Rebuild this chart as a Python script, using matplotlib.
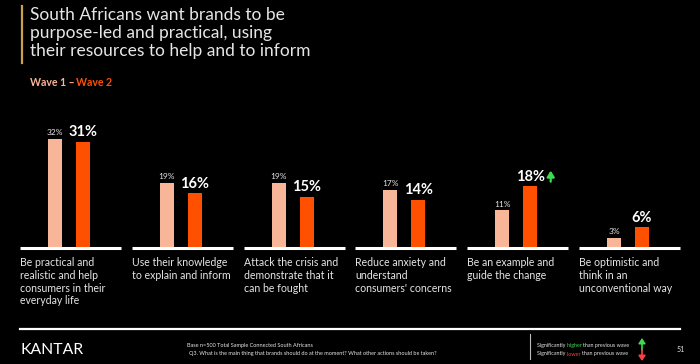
import matplotlib
matplotlib.use("Agg")
import matplotlib.pyplot as plt
from matplotlib.lines import Line2D
from matplotlib.patches import FancyArrowPatch

categories = [
    "Be practical and\nrealistic and help\nconsumers in their\neveryday life",
    "Use their knowledge\nto explain and inform",
    "Attack the crisis and\ndemonstrate that it\ncan be fought",
    "Reduce anxiety and\nunderstand\nconsumers' concerns",
    "Be an example and\nguide the change",
    "Be optimistic and\nthink in an\nunconventional way",
]
wave1 = [32, 19, 19, 17, 11, 3]
wave2 = [31, 16, 15, 14, 18, 6]
significance = [None, None, None, None, "up", None]

W, H = 700, 364
BG = "#000000"
C1 = "#F9B597"
C2 = "#FF5000"
TXT = "#E6E6E6"
GREEN = "#3DDC4E"
RED = "#FF4040"
FONT = ["Lato", "DejaVu Sans"]

fig = plt.figure(figsize=(W / 100, H / 100), dpi=100, facecolor=BG)

def fx(px):
    return px / W

def fy(py):
    return 1 - py / H

# title block
fig.add_artist(Line2D([fx(22), fx(22)], [fy(6), fy(63)], color="#C9A24A", lw=1.6))
fig.text(fx(30), fy(7), "South Africans want brands to be\npurpose-led and practical, using\ntheir resources to help and to inform",
         color=TXT, fontsize=12.5, family=FONT, va="top", ha="left", linespacing=1.14)
t1 = fig.text(fx(30), fy(83), "Wave 1 \u2013", color=C1, fontsize=7.6, family=FONT,
              va="center", ha="left", fontweight="bold")
fig.canvas.draw()
bb = t1.get_window_extent()
fig.text(bb.x1 / W + 1 / W, fy(83), "Wave 2", color=C2, fontsize=7.6, family=FONT,
         va="center", ha="left", fontweight="bold")

# bar axes: baseline at y=248px, 3.42 px per %
period = 111.8
base_py = 248
top_py = 110
ax = fig.add_axes([fx(20), fy(base_py), 6 * period / W, (base_py - top_py) / H])
ax.set_facecolor(BG)
ax.set_xlim(0, 6)
ax.set_ylim(0, (base_py - top_py) / 3.42)
ax.axis("off")

panel_w = 101 / period
bw = 14 / period
off1 = 35 / period
off2 = 63 / period

for i in range(len(categories)):
    ax.bar(i + off1, wave1[i], width=bw, color=C1, zorder=2)
    ax.bar(i + off2, wave2[i], width=bw, color=C2, zorder=2)
    ax.plot([i, i + panel_w], [0, 0], color="white", lw=2.2, solid_capstyle="butt",
            zorder=3, clip_on=False)
    ax.annotate(f"{wave1[i]}%", (i + off1, wave1[i]), xytext=(0, 2), textcoords="offset points",
                ha="center", va="bottom", color=TXT, fontsize=6, family=FONT)
    lab = ax.annotate(f"{wave2[i]}%", (i + off2, wave2[i]), xytext=(0, 2), textcoords="offset points",
                      ha="center", va="bottom", color="white", fontsize=10.5, family=FONT,
                      fontweight="bold")
    if significance[i] == "up":
        fig.canvas.draw()
        lb = lab.get_window_extent()
        xa = lb.x1 + 6
        fig.add_artist(FancyArrowPatch((xa / W, (lb.y0 + 2) / H), (xa / W, (lb.y1 - 1) / H),
                                       transform=fig.transFigure,
                                       arrowstyle="-|>,head_width=2.2,head_length=3.5",
                                       color=GREEN, lw=1.6, shrinkA=0, shrinkB=0))
    fig.text(fx(20 + i * period), fy(257), categories[i], color=TXT, fontsize=7.6,
             family=FONT, va="top", ha="left", linespacing=1.2)

# footer
fig.add_artist(Line2D([fx(20), fx(680)], [fy(329), fy(329)], color="white", lw=1.6))
fig.text(fx(20), fy(350), "KANTAR", color="white", fontsize=11.3, family=FONT,
         va="center", ha="left")
fig.text(fx(187), fy(345.5), "Base n=500 Total Sample Connected South Africans",
         color=TXT, fontsize=4.0, family=FONT, va="center", ha="left")
fig.text(fx(189), fy(353.5),
         "Q3. What is the main thing that brands should do at the moment? What other actions should be taken?",
         color=TXT, fontsize=4.0, family=FONT, va="center", ha="left")
fig.add_artist(Line2D([fx(530), fx(530)], [fy(334), fy(359)], color="#BBBBBB", lw=0.8))
y1, y2 = 345, 354
for yy, word, col in [(y1, "higher ", GREEN), (y2, "lower ", RED)]:
    a = fig.text(fx(537), fy(yy), "Significantly ", color=TXT, fontsize=3.9, family=FONT, va="center")
    fig.canvas.draw()
    x = a.get_window_extent().x1
    b = fig.text(x / W, fy(yy), word, color=col, fontsize=3.9, family=FONT, va="center")
    fig.canvas.draw()
    x = b.get_window_extent().x1
    fig.text(x / W, fy(yy), "than previous wave", color=TXT, fontsize=3.9, family=FONT, va="center")
fig.add_artist(FancyArrowPatch((fx(642), fy(350)), (fx(642), fy(338)),
               transform=fig.transFigure, arrowstyle="-|>,head_width=2,head_length=3",
               color=GREEN, lw=1.2, shrinkA=0, shrinkB=0))
fig.add_artist(FancyArrowPatch((fx(642), fy(350)), (fx(642), fy(361)),
               transform=fig.transFigure, arrowstyle="-|>,head_width=2,head_length=3",
               color=RED, lw=1.2, shrinkA=0, shrinkB=0))
fig.text(fx(677), fy(350), "51", color=TXT, fontsize=5, family=FONT, va="center", ha="left")

fig.savefig("out.png", dpi=100, facecolor=BG)
